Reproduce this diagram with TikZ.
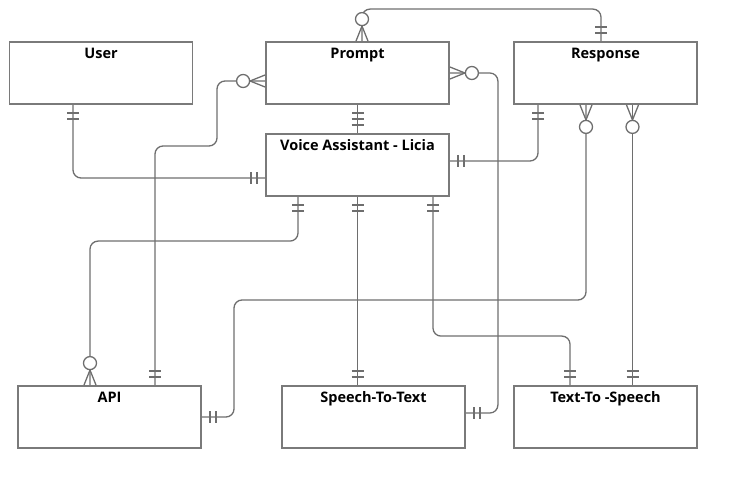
\documentclass[tikz,border=0pt]{standalone}
\usepackage{fontspec}
\setmainfont{Open Sans}
% ER end marks: exactly one, and zero or many
\pgfdeclarearrow{
  name=ERone,
  setup code={
    \pgfarrowssettipend{0pt}
    \pgfarrowssetlineend{0pt}
    \pgfarrowssetbackend{-16pt}
  },
  drawing code={
    \pgfpathmoveto{\pgfpoint{-8pt}{-6pt}}
    \pgfpathlineto{\pgfpoint{-8pt}{6pt}}
    \pgfpathmoveto{\pgfpoint{-14pt}{-6pt}}
    \pgfpathlineto{\pgfpoint{-14pt}{6pt}}
    \pgfusepathqstroke
  },
}
\pgfdeclarearrow{
  name=ERmany,
  setup code={
    \pgfarrowssettipend{0pt}
    \pgfarrowssetlineend{0pt}
    \pgfarrowssetbackend{-30pt}
  },
  drawing code={
    \pgfpathmoveto{\pgfpoint{0pt}{-6pt}}
    \pgfpathlineto{\pgfpoint{-15pt}{0pt}}
    \pgfpathlineto{\pgfpoint{0pt}{6pt}}
    \pgfusepathqstroke
    \pgfsetfillcolor{white}
    \pgfpathcircle{\pgfpoint{-22pt}{0pt}}{6.5pt}
    \pgfusepathqfillstroke
  },
}
\definecolor{erline}{HTML}{6E6E6E}
\definecolor{erbox}{HTML}{7A7A7A}
\begin{document}
\begin{tikzpicture}[x=1pt, y=-1pt,
  entity/.style={draw=erbox, line width=1.8pt, fill=white, minimum width=183pt,
    minimum height=62pt, inner sep=0pt,
    label={[entitytitle]north:#1}},
  entitytitle/.style={anchor=base, inner sep=0pt, yshift=-17pt,
    font=\bfseries\fontsize{14.5}{16}\selectfont},
  rel/.style={draw=erline, line width=1.3pt, rounded corners=8pt}]
\useasboundingbox (0,0) rectangle (737,489);
% entities
\node[entity=User] (user) at (101,73) {};
\node[entity=Prompt] (prompt) at (357.5,73) {};
\node[entity=Response] (response) at (605.5,73) {};
\node[entity={Voice Assistant - Licia}] (va) at (357.5,165) {};
\node[entity=API] (api) at (109.5,417) {};
\node[entity=Speech-To-Text] (stt) at (373.5,417) {};
\node[entity={Text-To -Speech}] (tts) at (605.5,417) {};
% relations
\draw[rel, {ERone}-{ERone}] ([xshift=-28pt]user.south) |- ([yshift=-13pt]va.west);
\draw[rel, {ERmany}-{ERone}] ([yshift=-8pt]prompt.west) -| (217,146) -| ([xshift=45.5pt]api.north);
\draw[rel, {ERmany}-{ERone}] ([xshift=4.5pt]prompt.north) |- ([xshift=-4.5pt,yshift=32pt]response.north) -- ([xshift=-4.5pt]response.north);
\draw[rel, {ERmany}-{ERone}] (prompt.east) -| ([xshift=32pt,yshift=4pt]stt.east) -- ([yshift=4pt]stt.east);
\draw[rel, {ERone}-{ERone}] (prompt.south) -- (va.north);
\draw[rel, {ERone}-{ERone}] ([xshift=-67.5pt]response.south) |- ([yshift=4pt]va.east);
\draw[rel, {ERmany}-{ERone}] ([xshift=-19.5pt]response.south) |- (234,300) |- (api.east);
\draw[rel, {ERmany}-{ERone}] ([xshift=27pt]response.south) -- ([xshift=27pt]tts.north);
\draw[rel, {ERone}-{ERmany}] ([xshift=-59.5pt]va.south) |- ([xshift=-19.5pt,yshift=144pt]api.north) -- ([xshift=-19.5pt]api.north);
\draw[rel, {ERone}-{ERone}] (va.south) -- (va.south |- stt.north);
\draw[rel, {ERone}-{ERone}] ([xshift=75.5pt]va.south) |- ([xshift=-35.5pt,yshift=49pt]tts.north) -- ([xshift=-35.5pt]tts.north);
\end{tikzpicture}
\end{document}
